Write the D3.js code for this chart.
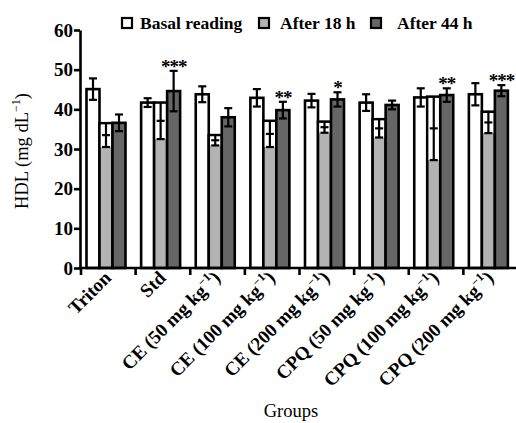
<!DOCTYPE html>
<html>
<head>
<meta charset="utf-8">
<script src="https://cdn.jsdelivr.net/npm/d3@7"></script>
<style>
  body { margin: 0; background: #fff; }
  text { font-family: "Liberation Serif", "DejaVu Serif", serif; fill: #000; }
</style>
</head>
<body>
<svg id="chart" width="516" height="423"></svg>
<script>
// Daten
const groups = ["Triton", "Std", "CE (50", "CE (100", "CE (200", "CPQ (50", "CPQ (100", "CPQ (200"];
const series = ["Basal reading", "After 18 h", "After 44 h"];
const basal   = [45.1, 41.7, 43.8, 42.9, 42.2, 41.7, 43.0, 43.8];
const basalSd = [2.7, 1.1, 2.0, 2.2, 1.7, 2.1, 2.3, 2.8];
const h18     = [33.5, 37.1, 32.2, 33.8, 35.5, 35.2, 35.2, 36.7];
const h18Sd   = [3.0, 4.6, 1.3, 3.3, 1.4, 2.3, 8.0, 2.7];
const h44     = [36.6, 44.6, 38.0, 39.8, 42.5, 41.1, 43.6, 44.7];
const h44Sd   = [2.1, 5.1, 2.3, 2.1, 1.8, 1.1, 1.7, 1.4];
const stars   = ["", "***", "", "**", "*", "", "**", "***"];
const yTicks  = [0, 10, 20, 30, 40, 50, 60];

const colors = ["#ffffff", "#b3b3b3", "#666666"];
const means = [basal, h18, h44];
const sds = [basalSd, h18Sd, h44Sd];

const svg = d3.select("#chart");

// Skalen
const y = d3.scaleLinear().domain([0, 60]).range([268, 30]);
const x = d3.scaleBand().domain(groups).range([81, 518]).padding(0);
const barW = 13;
const barX = (g, i) => x(g) + 5.5 + i * barW;

// Balken
const bars = svg.append("g");
series.forEach((s, i) => {
    groups.forEach((g, j) => {
        const m = means[i][j], e = sds[i][j];
        const bx = barX(g, i), cx = bx + barW / 2;
        const top = i === 1 ? m + e : m;
        bars.append("rect")
            .attr("x", bx).attr("y", y(top))
            .attr("width", barW).attr("height", y(0) - y(top))
            .attr("fill", colors[i])
            .attr("stroke", "#000").attr("stroke-width", 2.6);
        if (i === 1) {
            // Fehlerbereich innerhalb des grauen Balkens
            bars.append("rect")
                .attr("x", bx + 1.3).attr("y", y(m + e) + 1.3)
                .attr("width", barW - 2.6).attr("height", y(m - e) - y(m + e) - 1.3)
                .attr("fill", "#fff");
            bars.append("line")
                .attr("x1", cx).attr("x2", cx)
                .attr("y1", y(m + e)).attr("y2", y(m - e))
                .attr("stroke", "#000").attr("stroke-width", 2.2);
            [m, m - e].forEach(v => {
                bars.append("line")
                    .attr("x1", cx - 4).attr("x2", cx + 4)
                    .attr("y1", y(v)).attr("y2", y(v))
                    .attr("stroke", "#000").attr("stroke-width", 2.2);
            });
        } else {
            bars.append("line")
                .attr("x1", cx).attr("x2", cx)
                .attr("y1", y(m + e)).attr("y2", y(m - e))
                .attr("stroke", "#000").attr("stroke-width", 2.2);
            [m + e, m - e].forEach(v => {
                bars.append("line")
                    .attr("x1", cx - 4).attr("x2", cx + 4)
                    .attr("y1", y(v)).attr("y2", y(v))
                    .attr("stroke", "#000").attr("stroke-width", 2.2);
            });
        }
    });
});

// Signifikanzsterne
groups.forEach((g, j) => {
    if (!stars[j]) return;
    svg.append("text")
        .attr("x", barX(g, 2) + barW / 2)
        .attr("y", y(h44[j] + h44Sd[j]) + 2)
        .attr("text-anchor", "middle")
        .attr("font-size", "19px")
        .attr("font-weight", "bold")
        .attr("letter-spacing", "-1px")
        .text(stars[j]);
});

// Y-Achse
const yAxis = svg.append("g")
    .attr("transform", "translate(80,0)")
    .call(d3.axisLeft(y).tickValues(yTicks).tickSize(6).tickSizeOuter(0).tickPadding(1));
yAxis.select(".domain").attr("stroke-width", 2.6);
yAxis.selectAll(".tick line").attr("stroke-width", 2.6);
yAxis.selectAll(".tick text")
    .attr("font-family", "Liberation Serif, serif")
    .attr("font-size", "19px")
    .attr("font-weight", "bold");

// X-Achse
svg.append("line")
    .attr("x1", 79).attr("x2", 518)
    .attr("y1", y(0)).attr("y2", y(0))
    .attr("stroke", "#000").attr("stroke-width", 2.6);
svg.selectAll(".xtick").data(groups).enter().append("line")
    .attr("x1", d => x(d)).attr("x2", d => x(d))
    .attr("y1", y(0)).attr("y2", y(0) + 7)
    .attr("stroke", "#000").attr("stroke-width", 2.6);

// Gruppenbeschriftung
groups.forEach((g, j) => {
    const t = svg.append("text")
        .attr("transform", `translate(${x(g) + x.bandwidth() / 2 + 4},${279}) rotate(-45)`)
        .attr("text-anchor", "end")
        .attr("font-size", "19px")
        .attr("font-weight", "bold");
    if (j < 2) {
        t.text(g);
    } else {
        t.append("tspan").text(g + " mg kg");
        t.append("tspan").attr("dy", -8).attr("font-size", "12px").text("\u22121");
        t.append("tspan").attr("dy", 8).text(")");
    }
});

// Achsentitel
const yl = svg.append("text")
    .attr("transform", "translate(28,151) rotate(-90)")
    .attr("text-anchor", "middle")
    .attr("font-size", "18.5px");
yl.append("tspan").text("HDL (mg dL");
yl.append("tspan").attr("dy", -8).attr("font-size", "12px").text("\u22121");
yl.append("tspan").attr("dy", 8).text(")");

svg.append("text")
    .attr("x", 291).attr("y", 417)
    .attr("text-anchor", "middle")
    .attr("font-size", "18.5px")
    .text("Groups");

// Legende
const legendX = [122, 259, 371];
const legendTx = [140, 280, 397];
series.forEach((s, i) => {
    svg.append("rect")
        .attr("x", legendX[i]).attr("y", 18)
        .attr("width", 10).attr("height", 10)
        .attr("fill", colors[i])
        .attr("stroke", "#000").attr("stroke-width", 2.2);
    svg.append("text")
        .attr("x", legendTx[i]).attr("y", 29)
        .attr("font-size", "17.5px")
        .attr("font-weight", "bold")
        .text(s);
});
</script>
</body>
</html>
